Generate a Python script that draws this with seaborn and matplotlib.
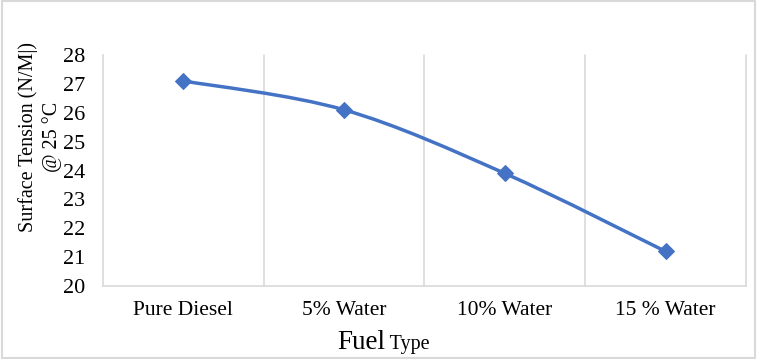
import numpy as np
import seaborn as sns
import matplotlib
matplotlib.use("Agg")
import matplotlib.pyplot as plt
from matplotlib.path import Path
from matplotlib.patches import PathPatch, Rectangle

fuel_types = ["Pure Diesel", "5% Water", "10% Water", "15 % Water"]
surface_tension = [27.1, 26.1, 23.9, 21.2]
y_ticks = [20, 21, 22, 23, 24, 25, 26, 27, 28]

line_color = "#4472C4"
grid_color = "#d9d9d9"

sns.set_theme(style="white")
plt.rcParams["font.family"] = ["Liberation Serif", "DejaVu Serif"]
plt.rcParams["text.color"] = "black"
plt.rcParams["xtick.color"] = "black"
plt.rcParams["ytick.color"] = "black"


def smooth_path(xs, ys):
    # excel-like smoothed line: catmull-rom segments as cubic beziers
    pts = np.column_stack([xs, ys]).astype(float)
    n = len(pts)
    verts = [pts[0]]
    codes = [Path.MOVETO]
    for i in range(n - 1):
        p0 = pts[max(i - 1, 0)]
        p1 = pts[i]
        p2 = pts[i + 1]
        p3 = pts[min(i + 2, n - 1)]
        c1 = p1 + (p2 - p0) / 6.0
        c2 = p2 - (p3 - p1) / 6.0
        verts += [c1, c2, p2]
        codes += [Path.CURVE4] * 3
    return Path(verts, codes)


def main():
    fig = plt.figure(figsize=(7.57, 3.59), dpi=100)
    ax = fig.add_axes([0.136, 0.203, 0.8495, 0.644])

    xpos = np.arange(len(fuel_types))
    patch = PathPatch(smooth_path(xpos, surface_tension), facecolor="none",
                      edgecolor=line_color, lw=2.5, zorder=3, capstyle="round")
    ax.add_patch(patch)
    sns.lineplot(x=xpos, y=surface_tension, ax=ax, marker="D", markersize=8.5,
                 color=line_color, linewidth=0, markeredgecolor=line_color, zorder=4)

    ax.set_xlim(-0.5, len(fuel_types) - 0.5)
    ax.set_ylim(20, 28)
    ax.set_yticks(y_ticks)
    ax.set_xticks(xpos)
    ax.set_xticklabels(fuel_types, fontsize=15.5)
    ax.tick_params(axis="y", labelsize=16, pad=13, length=0)
    ax.tick_params(axis="x", pad=11, length=0)

    # vertical gridlines between categories
    for b in np.arange(0.5, len(fuel_types), 1.0):
        ax.axvline(b, color=grid_color, lw=1.2, zorder=1, clip_on=False)

    for side in ["top", "right"]:
        ax.spines[side].set_visible(False)
    for side in ["left", "bottom"]:
        ax.spines[side].set_color(grid_color)
        ax.spines[side].set_linewidth(1.2)

    ax.set_xlabel("")
    ax.set_ylabel("")
    fig.text(0.053, 0.618, "Surface Tension (N/M|)\n@ 25 \u00b0C", rotation=90,
             ha="center", va="center", fontsize=14.5, linespacing=1.3)
    fig.text(0.509, 0.028, "Fuel", ha="right", va="baseline", fontsize=19.5)
    fig.text(0.509, 0.028, " Type", ha="left", va="baseline", fontsize=14.5)

    fig.patches.append(Rectangle((0.002, 0.003), 0.996, 0.994, transform=fig.transFigure,
                                 fill=False, edgecolor=grid_color, lw=1.5))
    fig.savefig("out.png", dpi=100)


if __name__ == "__main__":
    main()
